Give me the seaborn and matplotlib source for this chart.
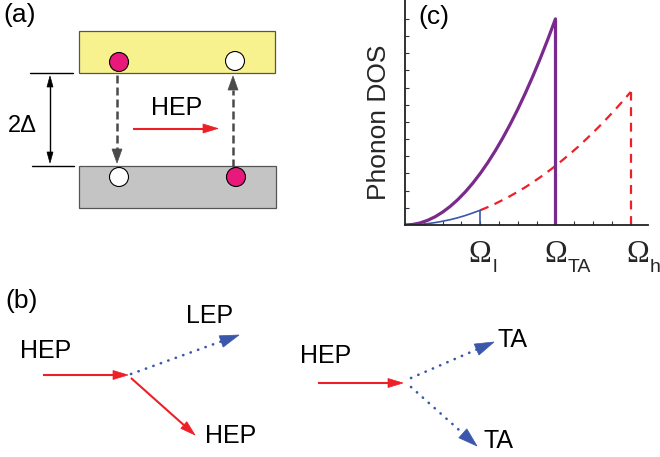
import numpy as np
import matplotlib
matplotlib.use("Agg")
import matplotlib.pyplot as plt
import matplotlib.transforms as mtransforms
from matplotlib.patches import Rectangle, Circle, Polygon
import seaborn as sns

# (c) phonon DOS
# frequency in units of Omega_l, DOS in units of one y tick
omega_ta = [0.0, 0.1, 0.2, 0.3, 0.4, 0.5, 0.6, 0.7, 0.8, 0.9, 1.0,
            1.1, 1.2, 1.3, 1.4, 1.5, 1.6, 1.7, 1.8, 1.9, 2.0]
dos_ta = [0.0, 0.03, 0.12, 0.27, 0.48, 0.75, 1.08, 1.47, 1.92, 2.43, 3.0,
          3.63, 4.32, 5.07, 5.88, 6.75, 7.68, 8.67, 9.72, 10.83, 12.0]
omega_low = [0.0, 0.1, 0.2, 0.3, 0.4, 0.5, 0.6, 0.7, 0.8, 0.9, 1.0]
dos_low = [0.0, 0.01, 0.03, 0.08, 0.14, 0.22, 0.31, 0.42, 0.55, 0.70, 0.86]
omega_high = [1.0, 1.1, 1.2, 1.3, 1.4, 1.5, 1.6, 1.7, 1.8, 1.9, 2.0,
              2.1, 2.2, 2.3, 2.4, 2.5, 2.6, 2.7, 2.8, 2.9, 3.0]
dos_high = [0.86, 1.04, 1.24, 1.46, 1.69, 1.94, 2.2, 2.49, 2.79, 3.11, 3.44,
            3.8, 4.17, 4.55, 4.96, 5.38, 5.82, 6.28, 6.75, 7.24, 7.75]
cutoff_names = ["l", "TA", "h"]
cutoff_omega = [1.0, 2.0, 3.0]

sns.set_style("ticks")
plt.rcParams["font.family"] = ["Liberation Sans", "DejaVu Sans"]

purple = "#7a2a8c"
red = "#ee1f26"
blue = "#3a57ab"
gray_dark = "#4a4a4a"
magenta = "#e8197b"

fig = plt.figure(figsize=(6.6, 4.57), dpi=100)

# background axes in pixel units for the schematics (a) and (b)
ax0 = fig.add_axes([0, 0, 1, 1])
ax0.set_xlim(0, 660)
ax0.set_ylim(457, 0)
ax0.axis("off")


def head(ax, tail, tip, length, width, color):
    tail = np.array(tail, float)
    tip = np.array(tip, float)
    u = (tip - tail) / np.hypot(*(tip - tail))
    n = np.array([-u[1], u[0]])
    base = tip - length * u
    ax.add_patch(Polygon([tip, base + n * width / 2, base - n * width / 2],
                         closed=True, fc=color, ec=color, lw=0.5, zorder=4))
    return base


def arrow(ax, tail, tip, color, lw, ls="-", length=14, width=9, cap="butt"):
    base = head(ax, tail, tip, length, width, color)
    ax.plot([tail[0], base[0]], [tail[1], base[1]], color=color, lw=lw, ls=ls,
            solid_capstyle="butt", dash_capstyle=cap, zorder=3)


txt = dict(fontsize=18, ha="center", va="baseline", color="black")
lab = dict(fontsize=19, ha="left", va="baseline", color="black")

# ---- (a) ----
ax0.text(3, 22, "(a)", **lab)
ax0.add_patch(Rectangle((79, 31), 196, 42, fc="#f8f28e", ec="#555555", lw=0.9))
ax0.add_patch(Rectangle((79, 166), 197, 42, fc="#c4c4c4", ec="#555555", lw=0.9))
for (cx, cy), fc in zip([(119, 62), (235, 61), (119, 177), (236, 177)],
                        [magenta, "white", "white", magenta]):
    ax0.add_patch(Circle((cx, cy), 9.5, fc=fc, ec="black", lw=0.8, zorder=5))

ax0.plot([30, 73], [73, 73], color="black", lw=1.0)
ax0.plot([32, 74], [166, 166], color="black", lw=1.0)
b1 = head(ax0, (50, 120), (50, 76), 11, 6, "black")
b2 = head(ax0, (50, 120), (50, 163), 11, 6, "black")
ax0.plot([50, 50], [b1[1], b2[1]], color="black", lw=1.0)
ax0.text(22, 132, "2Δ", **{**txt, "fontsize": 17})

arrow(ax0, (117, 75), (117, 163), gray_dark, 1.8, ls=(0, (3.2, 1.6)), length=14, width=10)
arrow(ax0, (233, 167), (233, 76), gray_dark, 1.8, ls=(0, (3.2, 1.6)), length=14, width=10)
arrow(ax0, (133, 128.5), (218, 128.5), red, 1.5, length=15, width=9)
ax0.text(177, 115, "HEP", **txt)

# ---- (b) ----
ax0.text(5, 308, "(b)", **lab)
dots = (0, (0.1, 2.9))
ax0.text(46, 358, "HEP", **txt)
arrow(ax0, (43, 375), (128, 375), red, 1.5, length=15, width=9)
arrow(ax0, (131, 374), (239, 335), blue, 1.9, ls=dots, length=19, width=12, cap="round")
arrow(ax0, (131, 378), (195, 435), red, 1.5, length=15, width=9)
ax0.text(210, 323, "LEP", **txt)
ax0.text(231, 443, "HEP", **txt)

ax0.text(326, 363, "HEP", **txt)
arrow(ax0, (318, 383), (403, 383), red, 1.5, length=15, width=9)
arrow(ax0, (411, 378), (494, 342), blue, 1.9, ls=dots, length=19, width=12, cap="round")
arrow(ax0, (411, 387), (477, 446), blue, 1.9, ls=dots, length=19, width=12, cap="round")
ax0.text(513, 347, "TA", **txt)
ax0.text(499, 448, "TA", **txt)

# ---- (c) ----
ax0.text(418, 24, "(c)", **lab)
axc = fig.add_axes([405 / 660, 232 / 457, 243 / 660, 225 / 457])
axc.patch.set_alpha(0)
sns.lineplot(x=omega_ta, y=dos_ta, ax=axc, color=purple, lw=2.3)
sns.lineplot(x=omega_low, y=dos_low, ax=axc, color=blue, lw=1.2)
sns.lineplot(x=omega_high, y=dos_high, ax=axc, color=red, lw=1.6,
             linestyle=(0, (4, 3)))
axc.vlines(cutoff_omega[1], 0, dos_ta[-1], color=purple, lw=2.3)
axc.vlines(cutoff_omega[0], 0, dos_low[-1], color=blue, lw=1.2)
axc.vlines(cutoff_omega[2], 0, dos_high[-1], color=red, lw=1.6,
           linestyles=[(0, (4, 3))])
axc.set_xlim(0, 3.23)
axc.set_ylim(0, 13.1)
axc.set_xticks(np.arange(0.25, 3.01, 0.25))
axc.set_yticks(np.arange(1, 13))
axc.set_xticklabels([])
axc.set_yticklabels([])
axc.tick_params(direction="in", length=3, width=0.8, colors="#333333")
sns.despine(ax=axc)
for s in ["left", "bottom"]:
    axc.spines[s].set_linewidth(1.3)
    axc.spines[s].set_color("#222222")
axc.set_ylabel("Phonon DOS", fontsize=19)
axc.yaxis.set_label_coords(-0.058, 0.458)

trans = mtransforms.blended_transform_factory(axc.transData, axc.transAxes)
nudge = [0, 0, 7]
for name, w, dx in zip(cutoff_names, cutoff_omega, nudge):
    t = trans + mtransforms.ScaledTranslation(dx / 100, 0, fig.dpi_scale_trans)
    axc.text(w, -0.164, "Ω", transform=t, fontsize=22, family="Liberation Serif",
             ha="center", va="baseline", clip_on=False)
    ts = trans + mtransforms.ScaledTranslation((dx + 12) / 100, 0, fig.dpi_scale_trans)
    axc.text(w, -0.209, name, transform=ts, fontsize=14, ha="left",
             va="baseline", clip_on=False)

fig.savefig("out.png", dpi=100)
